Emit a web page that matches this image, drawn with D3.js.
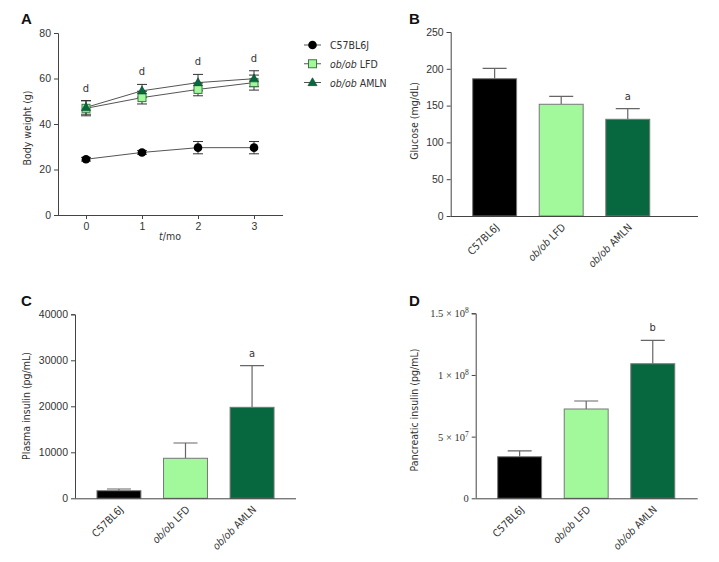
<!DOCTYPE html>
<html><head><meta charset="utf-8">
<script src="https://cdn.jsdelivr.net/npm/d3@7/dist/d3.min.js"></script>
<style>
body{margin:0;background:#fff;}
svg{font-family:'DejaVu Sans Condensed','DejaVu Sans',sans-serif;font-stretch:condensed;}
</style></head><body>
<svg id="c" width="719" height="562"></svg>
<script>
// ---------- DATA ----------
const months = [0, 1, 2, 3];
const monthTicks = [0, 1, 2, 3];
const weightTicks = [0, 20, 40, 60, 80];
const groups = ["C57BL6J", "ob/ob LFD", "ob/ob AMLN"];
const weightC57 = [24.5, 27.5, 29.6, 29.6];
const weightC57Err = [0.8, 0.8, 2.7, 2.7];
const weightLFD = [46.9, 51.6, 55.2, 58.2];
const weightLFDErr = [3.3, 2.8, 2.8, 3.3];
const weightAMLN = [47.3, 54.6, 58.2, 59.9];
const weightAMLNErr = [3.0, 2.8, 3.6, 3.5];
const weightSig = ["d", "d", "d", "d"];

const glucose = [186.5, 151.8, 131.4];
const glucoseErr = [14.2, 10.8, 14.4];
const glucoseSig = ["", "", "a"];
const glucoseTicks = [0, 50, 100, 150, 200, 250];

const plasmaInsulin = [1650, 8700, 19780];
const plasmaInsulinErr = [370, 3320, 9050];
const plasmaSig = ["", "", "a"];
const plasmaTicks = [0, 10000, 20000, 30000, 40000];

const pancInsulin = [3.37e7, 7.24e7, 1.091e8];
const pancInsulinErr = [0.47e7, 0.65e7, 1.9e7];
const pancSig = ["", "", "b"];
const pancTicks = [0, 5e7, 1e8, 1.5e8];
const pancTickLabels = [["0", ""], ["5 × 10", "7"], ["1 × 10", "8"], ["1.5 × 10", "8"]];

const colors = {"C57BL6J": "#000000", "ob/ob LFD": "#a2f99c", "ob/ob AMLN": "#07683f"};
// ---------- DRAW ----------
const svg = d3.select("#c");
const axisCol = "#444";
const txtCol = "#333";

function groupLabel(sel, name) {
  if (name.startsWith("ob/ob")) {
    sel.append("tspan").attr("font-style", "italic").text("ob/ob");
    sel.append("tspan").text(name.slice(5));
  } else sel.text(name);
}
function panelLetter(t, x, y) {
  svg.append("text").attr("x", x).attr("y", y).attr("font-family", "'Liberation Sans',Arial,sans-serif")
    .attr("font-weight", "bold").attr("font-size", 15).attr("fill", "#111").text(t);
}
function yLabel(t, x, y) {
  svg.append("text").attr("transform", `translate(${x},${y}) rotate(-90)`).attr("text-anchor", "middle")
    .attr("font-size", 10.5).attr("fill", txtCol).text(t);
}

// ----- Panel A -----
{
  const x = d3.scaleLinear().domain([-0.5, 3.5]).range([58, 282]);
  const y = d3.scaleLinear().domain([0, 80]).range([215, 33]);
  const g = svg.append("g");
  const ya = g.append("g").attr("transform", "translate(58,0)")
    .call(d3.axisLeft(y).tickValues(weightTicks).tickSize(4).tickPadding(3).tickFormat(d3.format("d")));
  const xa = g.append("g").attr("transform", "translate(0,215)")
    .call(d3.axisBottom(x).tickValues(monthTicks).tickSize(4).tickPadding(4).tickFormat(d3.format("d")));
  [ya, xa].forEach(a => {
    a.select(".domain").attr("stroke", axisCol);
    a.selectAll(".tick line").attr("stroke", axisCol);
    a.selectAll("text").attr("font-family", null).attr("font-size", 10.5).attr("fill", txtCol);
  });
  xa.select(".domain").attr("d", "M58,0.5H283");
  ya.select(".domain").attr("d", "M-4,33.5H0.5V215");

  const series = [
    {name: "C57BL6J", v: weightC57, e: weightC57Err, shape: "circle"},
    {name: "ob/ob LFD", v: weightLFD, e: weightLFDErr, shape: "square"},
    {name: "ob/ob AMLN", v: weightAMLN, e: weightAMLNErr, shape: "triangle"}
  ];
  const line = d3.line().x((d, i) => x(months[i])).y(d => y(d));
  series.forEach(s => {
    g.append("path").attr("d", line(s.v)).attr("fill", "none").attr("stroke", "#555").attr("stroke-width", 1);
  });
  series.forEach(s => {
    s.v.forEach((v, i) => {
      const cx = x(months[i]);
      const t = y(v + s.e[i]), b = y(v - s.e[i]);
      g.append("path").attr("d", `M${cx},${t}V${b}M${cx - 5},${t}H${cx + 5}M${cx - 5},${b}H${cx + 5}`)
        .attr("stroke", "#333").attr("stroke-width", 1).attr("fill", "none");
    });
  });
  function marker(sel, shape, cx, cy) {
    if (shape === "circle") sel.append("circle").attr("cx", cx).attr("cy", cy).attr("r", 4.3).attr("fill", "#000");
    else if (shape === "square") sel.append("rect").attr("x", cx - 4).attr("y", cy - 4).attr("width", 8).attr("height", 8)
      .attr("fill", colors["ob/ob LFD"]).attr("stroke", "#3c7a44").attr("stroke-width", 1);
    else sel.append("path").attr("d", d3.symbol(d3.symbolTriangle, 36)()).attr("transform", `translate(${cx},${cy + 0.5})`)
      .attr("fill", colors["ob/ob AMLN"]).attr("stroke", "#0a4a2e").attr("stroke-width", 0.6);
  }
  series.forEach(s => s.v.forEach((v, i) => marker(g, s.shape, x(months[i]), y(v))));
  // sig
  weightSig.forEach((t, i) => {
    const top = d3.max(series, s => s.v[i] + s.e[i]);
    g.append("text").attr("x", x(months[i])).attr("y", y(top) - 9).attr("text-anchor", "middle")
      .attr("font-size", 11).attr("fill", txtCol).text(t);
  });
  // x label
  const xl = g.append("text").attr("x", 170).attr("y", 240).attr("text-anchor", "middle").attr("font-size", 10.5).attr("fill", txtCol);
  xl.append("tspan").attr("font-style", "italic").text("t");
  xl.append("tspan").text("/mo");
  yLabel("Body weight (g)", 31, 128);
  // legend
  const ly = d3.scalePoint().domain(groups).range([45, 82.5]);
  series.forEach(s => {
    const yy = ly(s.name);
    g.append("line").attr("x1", 304).attr("x2", 321).attr("y1", yy).attr("y2", yy).attr("stroke", "#555");
    marker(g, s.shape, 312.5, yy);
    const t = g.append("text").attr("x", 330).attr("y", yy + 4).attr("font-size", 10.5).attr("fill", txtCol);
    groupLabel(t, s.name);
  });
  panelLetter("A", 21, 24);
}

// ----- Bar panels -----
function barPanel(o) {
  const x = d3.scaleBand().domain(groups).range([o.ax, o.ax + 221]).paddingInner(0.34).paddingOuter(0.33);
  const y = d3.scaleLinear().domain(o.domain).range([o.yb, o.yt]);
  const g = svg.append("g");
  // bars
  groups.forEach((k, i) => {
    const cx = x(k) + x.bandwidth() / 2;
    const top = y(o.values[i] + o.errs[i]);
    g.append("path").attr("d", `M${cx},${y(o.values[i])}V${top}M${cx - 12},${top}H${cx + 12}`)
      .attr("stroke", "#666").attr("stroke-width", 1.2).attr("fill", "none");
    g.append("rect").attr("x", x(k)).attr("y", y(o.values[i])).attr("width", x.bandwidth())
      .attr("height", o.yb - y(o.values[i])).attr("fill", colors[k]).attr("stroke", "#777").attr("stroke-width", 1);
    if (o.sig[i]) g.append("text").attr("x", cx).attr("y", top - 9).attr("text-anchor", "middle")
      .attr("font-size", 11).attr("fill", txtCol).text(o.sig[i]);
  });
  const ya = g.append("g").attr("transform", `translate(${o.ax},0)`)
    .call(d3.axisLeft(y).tickValues(o.ticks).tickSize(4).tickPadding(3).tickFormat(d3.format("d")));
  ya.select(".domain").attr("stroke", axisCol).attr("d", `M-4,${o.yt + 0.5}H0.5V${o.yb}`);
  ya.selectAll(".tick line").attr("stroke", axisCol);
  ya.selectAll("text").attr("font-family", null).attr("font-size", 10.5).attr("fill", txtCol);
  if (o.tickLabels) {
    ya.selectAll(".tick text").each(function(d, i) {
      const t = d3.select(this).text("").attr("font-family", "'Liberation Serif','DejaVu Serif',serif").attr("font-size", 10.5).attr("font-stretch", "normal");
      const lab = o.tickLabels[i];
      t.append("tspan").text(lab[0]);
      if (lab[1]) t.append("tspan").attr("dy", -4).attr("font-size", 7.5).text(lab[1]);
    });
  }
  g.append("line").attr("x1", o.ax).attr("x2", o.axEnd).attr("y1", o.yb + 0.5).attr("y2", o.yb + 0.5).attr("stroke", axisCol);
  // category labels
  groups.forEach(k => {
    const cx = x(k) + x.bandwidth() / 2;
    const t = g.append("text").attr("transform", `translate(${cx + 5},${o.yb + 12}) rotate(-45)`)
      .attr("text-anchor", "end").attr("font-size", 10.5).attr("fill", txtCol);
    groupLabel(t, k);
  });
  yLabel(o.ylabel, o.lx, o.ly);
  panelLetter(o.letter, o.px, o.py);
}
barPanel({ax: 450.7, axEnd: 698, yt: 32, yb: 216, domain: [0, 250], ticks: glucoseTicks,
  values: glucose, errs: glucoseErr, sig: glucoseSig, ylabel: "Glucose (mg/dL)", lx: 418, ly: 121, letter: "B", px: 409, py: 24});
barPanel({ax: 75, axEnd: 296, yt: 314.3, yb: 498.3, domain: [0, 40000], ticks: plasmaTicks,
  values: plasmaInsulin, errs: plasmaInsulinErr, sig: plasmaSig, ylabel: "Plasma insulin (pg/mL)", lx: 30, ly: 406, letter: "C", px: 21, py: 306});
barPanel({ax: 475.7, axEnd: 697.7, yt: 313.3, yb: 498.3, domain: [0, 1.5e8], ticks: pancTicks, tickLabels: pancTickLabels,
  values: pancInsulin, errs: pancInsulinErr, sig: pancSig, ylabel: "Pancreatic insulin (pg/mL)", lx: 418, ly: 410, letter: "D", px: 409, py: 306});
</script>
</body></html>
